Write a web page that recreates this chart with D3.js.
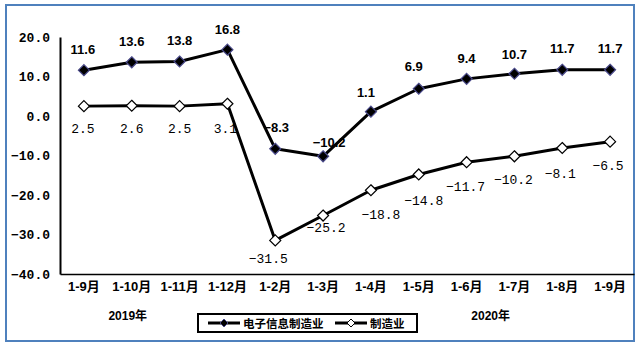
<!DOCTYPE html>
<html>
<head>
<meta charset="utf-8">
<script src="https://cdn.jsdelivr.net/npm/d3@7"></script>
<style>
  html, body { margin: 0; padding: 0; background: #fff; }
  svg { display: block; }
</style>
</head>
<body>
<svg id="chart" width="640" height="348"></svg>
<script>
// Cumulative months
const categories = ["1-9月", "1-10月", "1-11月", "1-12月", "1-2月", "1-3月",
                    "1-4月", "1-5月", "1-6月", "1-7月", "1-8月", "1-9月"];
// Growth rates (%)
const electronics = [11.6, 13.6, 13.8, 16.8, -8.3, -10.2, 1.1, 6.9, 9.4, 10.7, 11.7, 11.7];
const manufacturing = [2.5, 2.6, 2.5, 3.1, -31.5, -25.2, -18.8, -14.8, -11.7, -10.2, -8.1, -6.5];
const yTicks = [20, 10, 0, -10, -20, -30, -40];
const seriesNames = ["电子信息制造业", "制造业"];
const yearLabels = ["2019年", "2020年"];

// label nudges (px) so the value labels sit clear of the lines
const elecNudge = [[-1, 0], [0, 0], [0, 0], [0, 0], [1, -1], [6, 7], [-5, 1], [-5, -2], [0, 0], [0, 1], [0, -1], [0, -1]];
const mfgNudge = [[-1, 0], [0, 0], [0, 0], [-2, 2], [-7, -4], [3, -11], [10, 2], [5, 4], [-1, 2], [-1, 1], [-2, 3], [-2, 1]];

const svg = d3.select("#chart");
const plot = { left: 60, right: 634, top: 37, bottom: 274 };

const x = d3.scaleBand().domain(d3.range(categories.length)).range([plot.left, plot.right]).padding(0);
const cx = i => x(i) + x.bandwidth() / 2;
const y = d3.scaleLinear().domain([-40, 20]).range([plot.bottom, plot.top]);

// outer frame
svg.append("rect")
  .attr("x", 6).attr("y", 5).attr("width", 628).attr("height", 336)
  .attr("fill", "none").attr("stroke", "#4f81bd").attr("stroke-width", 2);

// y axis: line plus labels only
const yAxis = d3.axisLeft(y).tickValues(yTicks).tickSize(0).tickPadding(10)
  .tickFormat(d => d3.format(".1f")(d));
const gy = svg.append("g").attr("transform", `translate(${plot.left},0)`).call(yAxis);
gy.select(".domain").attr("stroke", "#000").attr("stroke-width", 2);
gy.selectAll("text")
  .attr("font-family", "'Liberation Mono', 'DejaVu Sans Mono', monospace")
  .attr("font-weight", "bold").attr("font-size", 13).attr("fill", "#000");

// x axis
const xAxis = d3.axisBottom(x).tickSize(0).tickPadding(8).tickFormat(i => categories[i]);
const gx = svg.append("g").attr("transform", `translate(0,${plot.bottom})`).call(xAxis);
gx.select(".domain").attr("stroke", "#000").attr("stroke-width", 1.5);
gx.selectAll("text")
  .attr("font-family", "'Liberation Sans', Arial, 'Noto Sans CJK SC', sans-serif")
  .attr("font-weight", "bold").attr("font-size", 13).attr("fill", "#000");

// year labels
const cjk = "'Liberation Sans', Arial, 'Noto Sans CJK SC', sans-serif";
svg.append("text").attr("x", (cx(0) + cx(1) + cx(2)) / 3 - 4).attr("y", 320)
  .attr("text-anchor", "middle").attr("font-family", cjk).attr("font-weight", "bold")
  .attr("font-size", 12).text(yearLabels[0]);
svg.append("text").attr("x", (cx(7) + cx(8)) / 2 + 48).attr("y", 320)
  .attr("text-anchor", "middle").attr("font-family", cjk).attr("font-weight", "bold")
  .attr("font-size", 12).text(yearLabels[1]);

// value labels (drawn beneath the lines)
svg.append("g").selectAll("text").data(electronics).join("text")
  .attr("x", (d, i) => cx(i) + elecNudge[i][0])
  .attr("y", (d, i) => y(d) - 16 + elecNudge[i][1])
  .attr("text-anchor", "middle")
  .attr("font-family", "'Liberation Sans', Arial, sans-serif")
  .attr("font-weight", "bold").attr("font-size", 13).attr("fill", "#000")
  .text(d => d3.format(".1f")(d));

svg.append("g").selectAll("text").data(manufacturing).join("text")
  .attr("x", (d, i) => cx(i) + mfgNudge[i][0])
  .attr("y", (d, i) => y(d) + 27 + mfgNudge[i][1])
  .attr("text-anchor", "middle")
  .attr("font-family", "'Liberation Mono', 'DejaVu Sans Mono', monospace")
  .attr("font-size", 13).attr("fill", "#000")
  .text(d => d3.format(".1f")(d));

// lines
const line = d3.line().x((d, i) => cx(i)).y(d => y(d));
[manufacturing, electronics].forEach(s => {
  svg.append("path").datum(s).attr("d", line)
    .attr("fill", "none").attr("stroke", "#000").attr("stroke-width", 3)
    .attr("stroke-linejoin", "round");
});

// diamond markers
const diamond = r => `M0,${-r}L${r},0L0,${r}L${-r},0Z`;
svg.append("g").selectAll("path").data(manufacturing).join("path")
  .attr("transform", (d, i) => `translate(${cx(i)},${y(d)})`)
  .attr("d", diamond(5.5)).attr("fill", "#fff").attr("stroke", "#000").attr("stroke-width", 1.2);
svg.append("g").selectAll("path").data(electronics).join("path")
  .attr("transform", (d, i) => `translate(${cx(i)},${y(d)})`)
  .attr("d", diamond(5.5)).attr("fill", "#000").attr("stroke", "#4a4a8a").attr("stroke-width", 1.2);

// legend
const lg = svg.append("g");
lg.append("rect").attr("x", 198).attr("y", 314).attr("width", 219).attr("height", 18)
  .attr("fill", "#fff").attr("stroke", "#000").attr("stroke-width", 2);
const entries = [
  { x: 208, name: seriesNames[0], fill: "#000", stroke: "#4a4a8a" },
  { x: 335, name: seriesNames[1], fill: "#fff", stroke: "#000" }
];
entries.forEach(e => {
  lg.append("line").attr("x1", e.x).attr("x2", e.x + 32).attr("y1", 323).attr("y2", 323)
    .attr("stroke", "#000").attr("stroke-width", 3);
  lg.append("path").attr("transform", `translate(${e.x + 16},323)`).attr("d", diamond(4))
    .attr("fill", e.fill).attr("stroke", e.stroke).attr("stroke-width", 1);
  lg.append("text").attr("x", e.x + 35).attr("y", 327.5)
    .attr("font-family", "'Noto Sans CJK SC', sans-serif").attr("font-weight", "bold")
    .attr("font-size", 11.5).attr("fill", "#000").text(e.name);
});
</script>
</body>
</html>
